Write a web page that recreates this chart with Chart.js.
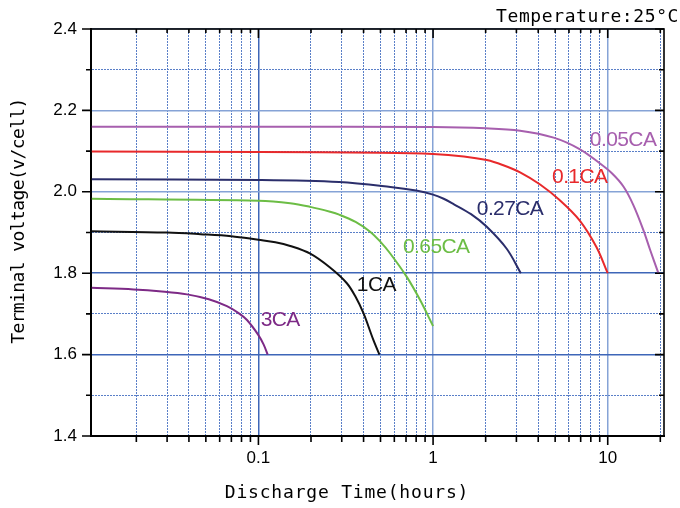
<!doctype html>
<html lang="en">
  <head>
    <meta charset="utf-8">
    <title>Discharge characteristics</title>
    <script src="https://cdn.jsdelivr.net/npm/chart.js"></script>
    <style>
      body { margin: 0; background: #fff; }
    </style>
  </head>
  <body>
    <canvas id="myChart" width="680" height="508"></canvas>

    <script>
    // discharge curves (time in hours, volts per cell)
    const t3CA   = [0.011, 0.0193, 0.028, 0.039, 0.052, 0.066, 0.077, 0.086, 0.1, 0.107, 0.113];
    const v3CA   = [1.764, 1.760, 1.755, 1.748, 1.736, 1.719, 1.702, 1.685, 1.648, 1.625, 1.60];

    const t1CA   = [0.011, 0.03, 0.0466, 0.07, 0.1, 0.125, 0.152, 0.198, 0.257, 0.32, 0.36, 0.40, 0.455, 0.493];
    const v1CA   = [1.903, 1.900, 1.896, 1.891, 1.882, 1.876, 1.867, 1.848, 1.814, 1.776, 1.742, 1.701, 1.636, 1.60];

    const t065CA = [0.011, 0.1, 0.152, 0.198, 0.257, 0.29, 0.36, 0.436, 0.5, 0.567, 0.707, 0.843, 1.0];
    const v065CA = [1.983, 1.978, 1.972, 1.963, 1.951, 1.944, 1.926, 1.902, 1.877, 1.849, 1.791, 1.734, 1.670];

    const t027CA = [0.011, 0.1, 0.29, 0.57, 0.8, 1.0, 1.15, 1.31, 1.65, 2.03, 2.64, 3.18];
    const v027CA = [2.031, 2.029, 2.024, 2.012, 2.003, 1.993, 1.983, 1.970, 1.945, 1.914, 1.860, 1.80];

    const t01CA  = [0.011, 0.1, 0.5, 1.0, 1.5, 2.03, 2.5, 3.15, 4.1, 5.3, 6.9, 8.6, 10];
    const v01CA  = [2.099, 2.098, 2.096, 2.093, 2.087, 2.078, 2.066, 2.048, 2.018, 1.980, 1.930, 1.865, 1.80];

    const t005CA = [0.011, 0.1, 1.0, 2.0, 3.15, 4.9, 6.9, 9.0, 10.6, 12.3, 14, 16, 17.5, 19.5];
    const v005CA = [2.160, 2.160, 2.159, 2.156, 2.150, 2.133, 2.105, 2.070, 2.045, 2.013, 1.968, 1.906, 1.857, 1.80];

    const seriesNames  = ['3CA', '1CA', '0.65CA', '0.27CA', '0.1CA', '0.05CA'];
    const seriesColors = ['#7d2a86', '#111111', '#6cbd45', '#2b2e6b', '#e8292b', '#a75fae'];
    // where each curve name sits (hours, volts at text baseline)
    const labelX = [0.103, 0.366, 0.673, 1.78, 4.8, 7.9];
    const labelY = [1.670, 1.756, 1.850, 1.943, 2.022, 2.113];

    const xMin = 0.011, xMax = 21;
    const yMin = 1.4, yMax = 2.4;
    const xTickVals   = [0.1, 1, 10];
    const xTickLabels = ['0.1', '1', '10'];
    const xTitle = 'Discharge Time(hours)';
    const yTitle = 'Terminal voltage(v/cell)';
    const noteText = 'Temperature:25\u00b0C';

    const times = [t3CA, t1CA, t065CA, t027CA, t01CA, t005CA];
    const volts = [v3CA, v1CA, v065CA, v027CA, v01CA, v005CA];

    // 1..9 x 10^n ticks across the log axis
    const xAllTicks = [];
    for (let e = -2; e <= 1; e++) {
        for (let k = 1; k <= 9; k++) {
            const v = +(k * Math.pow(10, e)).toPrecision(3);
            if (v >= xMin && v <= xMax) xAllTicks.push(v);
        }
    }
    const isMajorX = v => xTickVals.some(m => Math.abs(m - v) < 1e-9);
    const isMajorY = v => Math.round(v * 10) % 2 === 0;

    const datasets = seriesNames.map((name, i) => ({
        label: name,
        data: times[i].map((t, j) => ({ x: t, y: volts[i][j] })),
        borderColor: seriesColors[i],
        borderWidth: 2,
        pointRadius: 0,
        fill: false,
        tension: 0.35
    }));

    const MINOR = '#5a7fc8';

    const textPlugin = {
        id: 'texts',
        afterDraw(chart) {
            const c = chart.ctx;
            const a = chart.chartArea;
            const xs = chart.scales.x, ys = chart.scales.y;
            c.save();

            // frame
            c.strokeStyle = '#000';
            c.lineWidth = 1.6;
            c.strokeRect(a.left, a.top, a.right - a.left, a.bottom - a.top);

            // ticks: out on left/bottom, in on top/right; majors longer
            c.beginPath();
            xs.ticks.forEach(t => {
                const px = xs.getPixelForValue(t.value);
                const maj = isMajorX(t.value);
                c.moveTo(px, a.top);
                c.lineTo(px, a.top + (maj ? 9 : 4));
                c.moveTo(px, a.bottom);
                c.lineTo(px, a.bottom + (maj ? 9 : 6));
            });
            ys.ticks.forEach(t => {
                const py = ys.getPixelForValue(t.value);
                const maj = isMajorY(t.value);
                c.moveTo(a.right, py);
                c.lineTo(a.right - (maj ? 9 : 5), py);
                c.moveTo(a.left, py);
                c.lineTo(a.left - (maj ? 9 : 5), py);
            });
            c.stroke();

            // curve names
            c.font = '21px "Liberation Sans", Arial, sans-serif';
            c.letterSpacing = '-0.6px';
            c.textAlign = 'left';
            c.textBaseline = 'alphabetic';
            seriesNames.forEach((name, i) => {
                c.fillStyle = seriesColors[i];
                c.fillText(name, xs.getPixelForValue(labelX[i]), ys.getPixelForValue(labelY[i]));
            });

            // axis titles and note
            c.fillStyle = '#000';
            c.font = '18px "DejaVu Sans Mono", monospace';
            c.letterSpacing = '0.8px';
            c.textAlign = 'center';
            c.fillText(xTitle, 347, 498);

            c.textAlign = 'right';
            c.letterSpacing = '0.6px';
            c.fillText(noteText, 679, 22);

            c.translate(19, 221);
            c.rotate(-Math.PI / 2);
            c.textAlign = 'center';
            c.textBaseline = 'middle';
            c.letterSpacing = '-0.6px';
            c.fillText(yTitle, 0, 0);
            c.restore();
        }
    };

    const myChart = new Chart(document.getElementById('myChart'), {
        type: 'line',
        data: { datasets: datasets },
        options: {
            responsive: false,
            animation: false,
            layout: { padding: { left: 0, top: 29, right: 16, bottom: 0 } },
            plugins: { legend: { display: false }, tooltip: { enabled: false } },
            scales: {
                x: {
                    type: 'logarithmic',
                    min: xMin,
                    max: xMax,
                    afterBuildTicks: s => { s.ticks = xAllTicks.map(v => ({ value: v })); },
                    afterFit: s => { s.height = 72; },
                    ticks: {
                        autoSkip: false,
                        maxRotation: 0,
                        padding: 12,
                        color: '#000',
                        font: { family: '"Liberation Sans", Arial, sans-serif', size: 17 },
                        callback: v => {
                            const i = xTickVals.findIndex(m => Math.abs(m - v) < 1e-9);
                            return i >= 0 ? xTickLabels[i] : '';
                        }
                    },
                    grid: {
                        color: c => {
                            if (!c.tick || !isMajorX(c.tick.value)) return MINOR;
                            return c.tick.value < 0.5 ? '#3e66b8' : '#86a3d6';
                        },
                        lineWidth: c => c.tick && isMajorX(c.tick.value) ? 1.5 : 1,
                        drawTicks: false
                    },
                    border: {
                        color: '#000',
                        width: 2,
                        dash: c => c.tick && !isMajorX(c.tick.value) ? [2, 1] : []
                    }
                },
                y: {
                    type: 'linear',
                    min: yMin,
                    max: yMax,
                    afterFit: s => { s.width = 91; },
                    ticks: {
                        stepSize: 0.1,
                        padding: 14,
                        color: '#000',
                        font: { family: '"Liberation Sans", Arial, sans-serif', size: 17 },
                        callback: v => isMajorY(v) ? v.toFixed(1) : ''
                    },
                    grid: {
                        color: c => {
                            if (!c.tick || !isMajorY(c.tick.value)) return MINOR;
                            return c.tick.value > 1.9 ? '#86a3d6' : '#3e66b8';
                        },
                        lineWidth: c => c.tick && isMajorY(c.tick.value) ? 1.5 : 1,
                        drawTicks: false
                    },
                    border: {
                        color: '#000',
                        width: 2,
                        dash: c => c.tick && !isMajorY(c.tick.value) ? [2, 1] : []
                    }
                }
            }
        },
        plugins: [textPlugin]
    });
    </script>
  </body>
</html>
